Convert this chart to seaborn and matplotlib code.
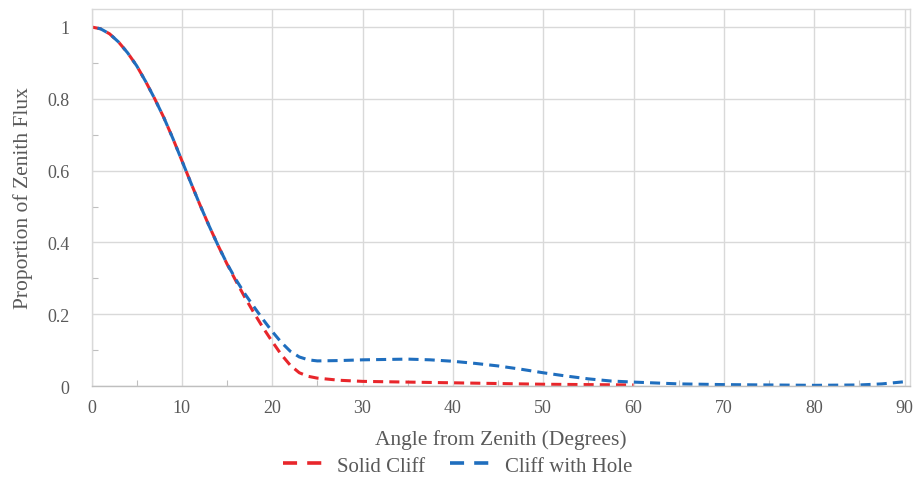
import numpy as np
import pandas as pd
import seaborn as sns
import matplotlib.pyplot as plt
from matplotlib.colors import to_hex
from matplotlib.ticker import MultipleLocator, FixedLocator

# values
angle_solid = [0, 1, 2, 3, 4, 5, 6, 7, 8, 9, 10, 11, 12, 13, 14, 15, 16, 17, 18, 19, 20, 21, 22, 23,
               24, 25, 27.5, 30, 35, 40, 45, 50, 55, 60]
flux_solid = [1.0, 0.995, 0.981, 0.958, 0.928, 0.892, 0.848, 0.800, 0.748, 0.690, 0.628, 0.566, 0.505,
              0.447, 0.392, 0.340, 0.292, 0.246, 0.203, 0.162, 0.124, 0.088, 0.058, 0.037, 0.027, 0.022,
              0.016, 0.013, 0.011, 0.009, 0.007, 0.005, 0.004, 0.003]

angle_hole = [0, 1, 2, 3, 4, 5, 6, 7, 8, 9, 10, 11, 12, 13, 14, 15, 16, 17, 18, 19, 20, 21, 22, 23,
              24, 25, 27.5, 30, 32.5, 35, 37.5, 40, 42.5, 45, 47.5, 50, 52.5, 55, 57.5, 60, 65, 70, 75,
              80, 85, 87.5, 90]
flux_hole = [1.0, 0.995, 0.981, 0.958, 0.928, 0.892, 0.848, 0.800, 0.748, 0.690, 0.628, 0.566, 0.505,
             0.447, 0.392, 0.341, 0.296, 0.256, 0.220, 0.185, 0.152, 0.122, 0.097, 0.081, 0.073, 0.070,
             0.071, 0.073, 0.074, 0.075, 0.073, 0.069, 0.063, 0.056, 0.047, 0.037, 0.028, 0.020, 0.014,
             0.011, 0.006, 0.004, 0.003, 0.002, 0.003, 0.006, 0.012]

series_names = ['Solid Cliff', 'Cliff with Hole']
series_colors = {'Solid Cliff': '#E8262B', 'Cliff with Hole': '#1F6EBE'}

df = pd.concat([
    pd.DataFrame({'angle': angle_solid, 'flux': flux_solid, 'series': series_names[0]}),
    pd.DataFrame({'angle': angle_hole, 'flux': flux_hole, 'series': series_names[1]}),
], ignore_index=True)

sns.set_theme(style='white')
plt.rcParams['font.family'] = ['Liberation Serif', 'DejaVu Serif']

text_col = '#595959'
grid_col = '#D9D9D9'

fig = plt.figure(figsize=(9.15, 5.02), dpi=100)
ax = fig.add_axes([0.1, 0.229, 0.8945, 0.751])

sns.lineplot(data=df, x='angle', y='flux', hue='series', style='series',
             hue_order=series_names, style_order=series_names,
             palette=series_colors, dashes={n: (3.3, 2.0) for n in series_names},
             linewidth=2.2, sort=False, ax=ax)

handles, labels = ax.get_legend_handles_labels()
ax.get_legend().remove()

# shift the blue dashes so the red shows through where the curves overlap
blue = series_colors['Cliff with Hole'].lower()
for line in ax.lines:
    if to_hex(line.get_color()).lower() == blue:
        line.set_linestyle((3.3, (3.3, 2.0)))

ax.set_xlim(0, 90.6)
ax.set_ylim(0, 1.05)
ax.xaxis.set_major_locator(MultipleLocator(10))
ax.xaxis.set_minor_locator(MultipleLocator(5))
ax.yaxis.set_major_locator(FixedLocator([0, 0.2, 0.4, 0.6, 0.8, 1.0]))
ax.yaxis.set_minor_locator(FixedLocator([0.1, 0.3, 0.5, 0.7, 0.9]))
ax.set_yticklabels(['0', '0.2', '0.4', '0.6', '0.8', '1'])

ax.grid(True, which='major', color=grid_col, linewidth=1.0)
ax.set_axisbelow(True)
ax.tick_params(which='major', length=0, labelsize=13, labelcolor=text_col)
ax.tick_params(axis='y', which='major', pad=16)
ax.tick_params(axis='x', which='major', pad=9)
ax.tick_params(which='minor', bottom=True, left=True, direction='in', length=4, width=0.8,
               color='#BFBFBF')

for side in ['top', 'right', 'left']:
    ax.spines[side].set_color(grid_col)
    ax.spines[side].set_linewidth(1.0)
ax.spines['bottom'].set_color('#BFBFBF')
ax.spines['bottom'].set_linewidth(1.0)

ax.set_xlabel('Angle from Zenith (Degrees)', fontsize=15.5, color=text_col, labelpad=10)
ax.set_ylabel('Proportion of Zenith Flux', fontsize=15.5, color=text_col, labelpad=10)

leg = fig.legend(handles, labels, loc='center', bbox_to_anchor=(0.5, 0.07), ncol=2, frameon=False,
                 fontsize=15, labelcolor=text_col, handlelength=1.9, columnspacing=1.2,
                 handletextpad=0.7)
for lh in leg.get_lines():
    lh.set_linestyle((0, (3.9, 2.8)))
    lh.set_linewidth(2.6)

fig.savefig('out.png', dpi=100)
